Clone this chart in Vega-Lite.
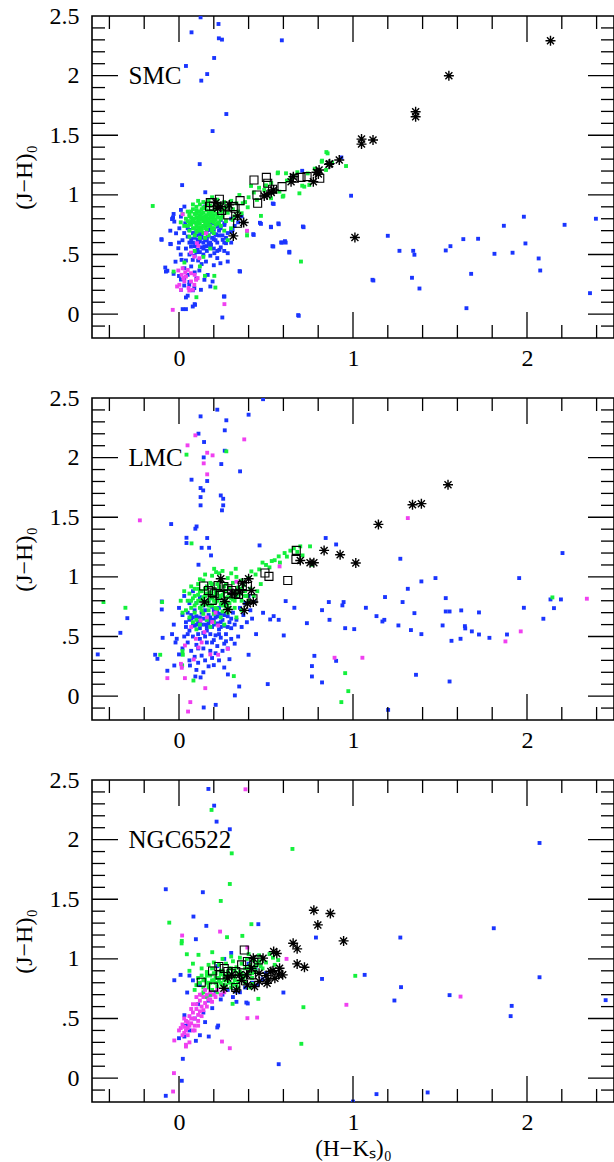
{
"$schema":"https://vega.github.io/schema/vega-lite/v6.json",
"padding":{"left":11,"top":3,"right":0,"bottom":0},
"spacing":60,
"bounds":"flush",
"config":{"view":{"stroke":"black","strokeWidth":1.6},
 "axis":{"domain":false,"grid":false,"ticks":false,"labelFont":"Liberation Serif","labelFontSize":24,"labelColor":"black","titleFont":"Liberation Serif","titleFontSize":24,"titleFontWeight":"normal","titleColor":"black","labelFlush":false,"labelOverlap":false}},
"datasets":{
"yt":[{"v":-0.1,"k":0},{"v":0,"k":1},{"v":0.1,"k":0},{"v":0.2,"k":0},{"v":0.3,"k":0},{"v":0.4,"k":0},{"v":0.5,"k":1},{"v":0.6,"k":0},{"v":0.7,"k":0},{"v":0.8,"k":0},{"v":0.9,"k":0},{"v":1,"k":1},{"v":1.1,"k":0},{"v":1.2,"k":0},{"v":1.3,"k":0},{"v":1.4,"k":0},{"v":1.5,"k":1},{"v":1.6,"k":0},{"v":1.7,"k":0},{"v":1.8,"k":0},{"v":1.9,"k":0},{"v":2,"k":1},{"v":2.1,"k":0},{"v":2.2,"k":0},{"v":2.3,"k":0},{"v":2.4,"k":0}],
"xt":[{"v":-0.4,"k":0},{"v":-0.2,"k":0},{"v":0,"k":1},{"v":0.2,"k":0},{"v":0.4,"k":0},{"v":0.6,"k":0},{"v":0.8,"k":0},{"v":1,"k":1},{"v":1.2,"k":0},{"v":1.4,"k":0},{"v":1.6,"k":0},{"v":1.8,"k":0},{"v":2,"k":1},{"v":2.2,"k":0},{"v":2.4,"k":0}],
"smc":[
{"t":"b","x":0.124,"y":2.489},{"t":"b","x":0.227,"y":2.433},{"t":"b","x":0.072,"y":2.363},{"t":"b","x":0.229,"y":2.313},{"t":"b","x":0.247,"y":2.302},{"t":"b","x":0.591,"y":2.296},{"t":"b","x":0.202,"y":2.148},{"t":"b","x":0.04,"y":2.081},{"t":"b","x":0.162,"y":2.013},{"t":"b","x":0.128,"y":1.958},{"t":"b","x":0.272,"y":1.678},{"t":"b","x":0.193,"y":1.535},{"t":"b","x":0.119,"y":1.258},{"t":"b","x":0.018,"y":1.082},{"t":"b","x":0.989,"y":0.993},{"t":"b","x":0.933,"y":1.314},{"t":"b","x":0.708,"y":1.202},{"t":"b","x":0.539,"y":0.928},{"t":"b","x":0.465,"y":0.766},{"t":"b","x":0.528,"y":0.733},{"t":"b","x":0.571,"y":0.761},{"t":"b","x":0.712,"y":0.735},{"t":"b","x":0.427,"y":0.671},{"t":"b","x":0.537,"y":0.57},{"t":"b","x":0.587,"y":0.601},{"t":"b","x":0.609,"y":0.612},{"t":"b","x":0.634,"y":0.523},{"t":"b","x":0.348,"y":0.361},{"t":"b","x":0.258,"y":0.148},{"t":"b","x":0.249,"y":-0.028},{"t":"b","x":0.685,"y":-0.008},{"t":"b","x":1.112,"y":0.288},{"t":"b","x":1.2,"y":0.657},{"t":"b","x":1.267,"y":0.531},{"t":"b","x":1.346,"y":0.531},{"t":"b","x":1.353,"y":0.498},{"t":"b","x":1.339,"y":0.305},{"t":"b","x":1.382,"y":0.215},{"t":"b","x":1.533,"y":0.534},{"t":"b","x":1.56,"y":0.57},{"t":"b","x":1.634,"y":0.629},{"t":"b","x":1.652,"y":0.05},{"t":"b","x":1.679,"y":0.338},{"t":"b","x":1.719,"y":0.632},{"t":"b","x":1.813,"y":0.506},{"t":"b","x":1.867,"y":0.741},{"t":"b","x":1.917,"y":0.515},{"t":"b","x":1.982,"y":0.817},{"t":"b","x":1.991,"y":0.593},{"t":"b","x":2.067,"y":0.467},{"t":"b","x":2.076,"y":0.366},{"t":"b","x":2.216,"y":0.749},{"t":"b","x":2.362,"y":0.176},{"t":"b","x":2.396,"y":0.8},
{"t":"b","x":0.04,"y":0.042},{"t":"b","x":0.079,"y":0.064},{"t":"b","x":0.09,"y":0.084},{"t":"b","x":-0.101,"y":0.629},{"t":"b","x":-0.047,"y":0.587},{"t":"b","x":-0.04,"y":0.797},{"t":"b","x":-0.034,"y":0.811},{"t":"b","x":-0.079,"y":0.391},{"t":"b","x":-0.067,"y":0.364},
{"t":"b","x":0.151,"y":1.022},{"t":"b","x":-0.1,"y":0.623},{"t":"b","x":-0.05,"y":0.589},{"t":"b","x":-0.036,"y":0.804},{"t":"b","x":-0.027,"y":0.776},{"t":"b","x":0.011,"y":0.818},{"t":"b","x":0.031,"y":0.902},{"t":"b","x":-0.075,"y":0.357},{"t":"b","x":-0.031,"y":0.338},{"t":"b","x":0.0,"y":0.32},{"t":"b","x":0.011,"y":0.29},{"t":"b","x":0.04,"y":0.14},{"t":"b","x":0.05,"y":0.155},{"t":"b","x":0.092,"y":0.078},{"t":"b","x":0.021,"y":0.042},{"t":"b","x":0.261,"y":0.148},{"t":"b","x":0.351,"y":0.357},{"t":"b","x":0.28,"y":0.441},{"t":"b","x":0.238,"y":0.427},{"t":"b","x":0.203,"y":0.511},{"t":"b","x":0.155,"y":0.441},{"t":"b","x":0.146,"y":0.288},{"t":"b","x":0.165,"y":0.329},{"t":"b","x":0.193,"y":0.274},{"t":"b","x":0.126,"y":0.204},{"t":"b","x":0.18,"y":0.232},{"t":"b","x":0.117,"y":0.366},{"t":"b","x":0.069,"y":0.511},{"t":"b","x":0.079,"y":0.455},{"t":"b","x":0.05,"y":0.65},{"t":"b","x":0.036,"y":0.762},{"t":"b","x":0.059,"y":0.706},{"t":"b","x":0.107,"y":0.623},{"t":"b","x":0.165,"y":0.65},{"t":"b","x":0.213,"y":0.664},{"t":"b","x":0.251,"y":0.623},{"t":"b","x":0.27,"y":0.595},{"t":"b","x":0.28,"y":0.511},{"t":"b","x":0.232,"y":0.539},{"t":"b","x":0.184,"y":0.581},{"t":"b","x":0.146,"y":0.567},{"t":"b","x":0.107,"y":0.539},{"t":"b","x":0.069,"y":0.567},{"t":"b","x":0.088,"y":0.678},{"t":"b","x":0.126,"y":0.72},{"t":"b","x":0.174,"y":0.706},{"t":"b","x":0.222,"y":0.734},{"t":"b","x":0.261,"y":0.748},{"t":"b","x":0.299,"y":0.692},{"t":"b","x":-0.017,"y":0.678},{"t":"b","x":0.002,"y":0.72},{"t":"b","x":-0.004,"y":0.553},{"t":"b","x":0.015,"y":0.455},{"t":"b","x":0.031,"y":0.385},{"t":"b","x":0.059,"y":0.246},{"t":"b","x":0.088,"y":0.218},{"t":"b","x":0.011,"y":0.204},{"t":"b","x":0.146,"y":0.902},{"t":"b","x":0.011,"y":0.874},{"t":"b","x":-0.031,"y":0.84},{"t":"b","x":0.261,"y":0.762},{"t":"b","x":0.308,"y":0.706},{"t":"b","x":0.471,"y":0.757},{"t":"b","x":0.529,"y":0.729},{"t":"b","x":0.573,"y":0.754},{"t":"b","x":0.429,"y":0.664},{"t":"b","x":0.542,"y":0.567},{"t":"b","x":0.592,"y":0.6},{"t":"b","x":0.613,"y":0.6},{"t":"b","x":0.634,"y":0.516},{"t":"b","x":0.716,"y":0.729},{"t":"b","x":0.544,"y":0.924},{"t":"b","x":0.688,"y":-0.014},{"t":"b","x":1.117,"y":0.282},
{"t":"b","x":0.08,"y":0.6},{"t":"b","x":0.1,"y":0.58},{"t":"b","x":0.12,"y":0.61},{"t":"b","x":0.14,"y":0.6},{"t":"b","x":0.16,"y":0.62},{"t":"b","x":0.18,"y":0.6},{"t":"b","x":0.2,"y":0.63},{"t":"b","x":0.22,"y":0.6},{"t":"b","x":0.09,"y":0.64},{"t":"b","x":0.11,"y":0.66},{"t":"b","x":0.13,"y":0.64},{"t":"b","x":0.15,"y":0.68},{"t":"b","x":0.17,"y":0.66},{"t":"b","x":0.19,"y":0.69},{"t":"b","x":0.21,"y":0.67},{"t":"b","x":0.23,"y":0.7},{"t":"b","x":0.1,"y":0.7},{"t":"b","x":0.12,"y":0.52},{"t":"b","x":0.14,"y":0.5},{"t":"b","x":0.16,"y":0.53},{"t":"b","x":0.18,"y":0.49},{"t":"b","x":0.09,"y":0.49},{"t":"b","x":0.06,"y":0.6},{"t":"b","x":0.04,"y":0.55},{"t":"b","x":0.02,"y":0.62},{"t":"b","x":0.25,"y":0.66},{"t":"b","x":0.27,"y":0.64},{"t":"b","x":0.24,"y":0.56},{"t":"b","x":0.2,"y":0.55},{"t":"b","x":0.13,"y":0.56},{"t":"b","x":0.16,"y":0.57},{"t":"b","x":0.11,"y":0.45},{"t":"b","x":0.13,"y":0.42},{"t":"b","x":0.07,"y":0.4},{"t":"b","x":0.05,"y":0.33},{"t":"b","x":0.09,"y":0.35},{"t":"b","x":0.03,"y":0.3},{"t":"b","x":0.1,"y":0.3},{"t":"b","x":0.06,"y":0.27},{"t":"b","x":0.08,"y":0.2},{"t":"b","x":0.03,"y":0.24},{"t":"b","x":0.2,"y":0.41},{"t":"b","x":0.22,"y":0.47},{"t":"b","x":0.26,"y":0.53},{"t":"b","x":0.3,"y":0.6},{"t":"b","x":0.28,"y":0.68},{"t":"b","x":0.32,"y":0.74},{"t":"b","x":0.05,"y":0.72},{"t":"b","x":0.07,"y":0.76},{"t":"b","x":0.03,"y":0.68},{"t":"b","x":0.0,"y":0.6},{"t":"b","x":0.01,"y":0.5},{"t":"b","x":0.04,"y":0.45},{"t":"b","x":-0.02,"y":0.44},{"t":"b","x":-0.05,"y":0.7},{"t":"b","x":0.15,"y":0.74},{"t":"b","x":0.19,"y":0.76},{"t":"b","x":0.24,"y":0.79},{"t":"b","x":0.3,"y":0.8},{"t":"b","x":0.34,"y":0.77},{"t":"b","x":0.36,"y":0.82},
{"t":"b","x":0.07,"y":0.63},{"t":"b","x":0.09,"y":0.57},{"t":"b","x":0.11,"y":0.6},{"t":"b","x":0.13,"y":0.67},{"t":"b","x":0.15,"y":0.62},{"t":"b","x":0.17,"y":0.59},{"t":"b","x":0.19,"y":0.64},{"t":"b","x":0.21,"y":0.62},{"t":"b","x":0.23,"y":0.66},{"t":"b","x":0.08,"y":0.68},{"t":"b","x":0.12,"y":0.69},{"t":"b","x":0.16,"y":0.7},{"t":"b","x":0.2,"y":0.71},{"t":"b","x":0.14,"y":0.55},{"t":"b","x":0.18,"y":0.56},{"t":"b","x":0.1,"y":0.52},{"t":"b","x":0.06,"y":0.5},{"t":"b","x":0.22,"y":0.53},{"t":"b","x":0.26,"y":0.6},{"t":"b","x":0.24,"y":0.72},
{"t":"g","x":0.05,"y":0.78},{"t":"g","x":0.06,"y":0.82},{"t":"g","x":0.07,"y":0.75},{"t":"g","x":0.07,"y":0.86},{"t":"g","x":0.08,"y":0.8},{"t":"g","x":0.08,"y":0.72},{"t":"g","x":0.09,"y":0.84},{"t":"g","x":0.09,"y":0.77},{"t":"g","x":0.1,"y":0.9},{"t":"g","x":0.1,"y":0.81},{"t":"g","x":0.1,"y":0.74},{"t":"g","x":0.11,"y":0.86},{"t":"g","x":0.11,"y":0.79},{"t":"g","x":0.11,"y":0.7},{"t":"g","x":0.12,"y":0.83},{"t":"g","x":0.12,"y":0.76},{"t":"g","x":0.12,"y":0.92},{"t":"g","x":0.13,"y":0.88},{"t":"g","x":0.13,"y":0.8},{"t":"g","x":0.13,"y":0.73},{"t":"g","x":0.14,"y":0.85},{"t":"g","x":0.14,"y":0.78},{"t":"g","x":0.14,"y":0.68},{"t":"g","x":0.15,"y":0.9},{"t":"g","x":0.15,"y":0.82},{"t":"g","x":0.15,"y":0.75},{"t":"g","x":0.16,"y":0.87},{"t":"g","x":0.16,"y":0.79},{"t":"g","x":0.16,"y":0.71},{"t":"g","x":0.17,"y":0.84},{"t":"g","x":0.17,"y":0.77},{"t":"g","x":0.18,"y":0.91},{"t":"g","x":0.18,"y":0.81},{"t":"g","x":0.18,"y":0.74},{"t":"g","x":0.19,"y":0.86},{"t":"g","x":0.19,"y":0.78},{"t":"g","x":0.2,"y":0.83},{"t":"g","x":0.2,"y":0.72},{"t":"g","x":0.21,"y":0.88},{"t":"g","x":0.21,"y":0.79},{"t":"g","x":0.22,"y":0.84},{"t":"g","x":0.22,"y":0.76},{"t":"g","x":0.23,"y":0.9},{"t":"g","x":0.23,"y":0.81},{"t":"g","x":0.24,"y":0.86},{"t":"g","x":0.25,"y":0.82},{"t":"g","x":0.26,"y":0.88},{"t":"g","x":0.04,"y":0.8},{"t":"g","x":0.03,"y":0.74},{"t":"g","x":0.05,"y":0.86},{"t":"g","x":0.06,"y":0.7},{"t":"g","x":0.09,"y":0.66},{"t":"g","x":0.12,"y":0.64},{"t":"g","x":0.17,"y":0.66},{"t":"g","x":0.2,"y":0.68},{"t":"g","x":0.24,"y":0.74},{"t":"g","x":0.27,"y":0.78},{"t":"g","x":0.28,"y":0.85},{"t":"g","x":0.29,"y":0.91},{"t":"g","x":0.31,"y":0.88},{"t":"g","x":0.33,"y":0.93},{"t":"g","x":0.3,"y":0.95},{"t":"g","x":0.14,"y":0.94},{"t":"g","x":0.17,"y":0.95},{"t":"g","x":0.08,"y":0.92},{"t":"g","x":0.02,"y":0.84},{"t":"g","x":0.01,"y":0.77},{"t":"g","x":0.11,"y":0.95},{"t":"g","x":0.26,"y":0.94},{"t":"g","x":0.22,"y":0.96},{"t":"g","x":0.19,"y":0.98},{"t":"g","x":0.1,"y":0.87},{"t":"g","x":0.13,"y":0.84},{"t":"g","x":0.16,"y":0.83},{"t":"g","x":0.18,"y":0.86},{"t":"g","x":0.2,"y":0.8},{"t":"g","x":0.07,"y":0.81},{"t":"g","x":0.09,"y":0.8},{"t":"g","x":0.11,"y":0.77},{"t":"g","x":0.14,"y":0.81},{"t":"g","x":0.15,"y":0.79},{"t":"g","x":0.12,"y":0.79},{"t":"g","x":0.17,"y":0.8},{"t":"g","x":0.19,"y":0.82},{"t":"g","x":0.21,"y":0.75},{"t":"g","x":0.23,"y":0.77},{"t":"g","x":0.1,"y":0.69},{"t":"g","x":0.15,"y":0.64},{"t":"g","x":0.19,"y":0.7},{"t":"g","x":0.06,"y":0.65},
{"t":"g","x":0.06,"y":0.76},{"t":"g","x":0.08,"y":0.78},{"t":"g","x":0.1,"y":0.76},{"t":"g","x":0.12,"y":0.81},{"t":"g","x":0.14,"y":0.74},{"t":"g","x":0.16,"y":0.76},{"t":"g","x":0.18,"y":0.78},{"t":"g","x":0.2,"y":0.77},{"t":"g","x":0.22,"y":0.82},{"t":"g","x":0.24,"y":0.8},{"t":"g","x":0.06,"y":0.84},{"t":"g","x":0.08,"y":0.88},{"t":"g","x":0.1,"y":0.84},{"t":"g","x":0.12,"y":0.86},{"t":"g","x":0.14,"y":0.89},{"t":"g","x":0.16,"y":0.92},{"t":"g","x":0.18,"y":0.84},{"t":"g","x":0.2,"y":0.86},{"t":"g","x":0.22,"y":0.9},{"t":"g","x":0.24,"y":0.92},{"t":"g","x":0.09,"y":0.72},{"t":"g","x":0.11,"y":0.73},{"t":"g","x":0.13,"y":0.7},{"t":"g","x":0.15,"y":0.72},{"t":"g","x":0.17,"y":0.74},{"t":"g","x":0.19,"y":0.72},{"t":"g","x":0.07,"y":0.78},{"t":"g","x":0.05,"y":0.74},{"t":"g","x":0.25,"y":0.86},{"t":"g","x":0.27,"y":0.9},
{"t":"g","x":-0.151,"y":0.907},{"t":"g","x":0.347,"y":0.999},{"t":"g","x":0.414,"y":1.075},{"t":"g","x":0.49,"y":1.041},{"t":"g","x":0.567,"y":1.181},{"t":"g","x":0.615,"y":1.181},{"t":"g","x":0.644,"y":1.139},{"t":"g","x":0.72,"y":1.069},{"t":"g","x":0.822,"y":1.287},{"t":"g","x":0.854,"y":1.348},{"t":"g","x":0.96,"y":1.242},{"t":"g","x":0.596,"y":0.985},{"t":"g","x":0.471,"y":0.824},{"t":"g","x":0.391,"y":0.692},{"t":"g","x":0.391,"y":0.66},{"t":"g","x":0.701,"y":0.441},{"t":"g","x":0.209,"y":0.223},{"t":"g","x":0.1,"y":0.142},{"t":"g","x":0.149,"y":0.321},{"t":"g","x":0.203,"y":0.321},{"t":"g","x":0.031,"y":0.433},{"t":"g","x":-0.031,"y":0.357},{"t":"g","x":0.366,"y":0.93},{"t":"g","x":0.395,"y":0.896},{"t":"g","x":0.36,"y":0.846},{"t":"g","x":0.308,"y":0.79},{"t":"g","x":0.299,"y":0.72},{"t":"g","x":0.448,"y":0.958},{"t":"g","x":0.529,"y":0.972},{"t":"g","x":0.577,"y":1.027},{"t":"g","x":0.749,"y":1.083},{"t":"g","x":0.692,"y":1.013},{"t":"g","x":0.845,"y":1.209},{"t":"g","x":0.847,"y":1.359},{"t":"g","x":0.82,"y":1.278},{"t":"g","x":0.708,"y":1.077},{"t":"g","x":0.6,"y":0.993},{"t":"g","x":0.569,"y":1.188},{"t":"g","x":0.4,"y":0.98},{"t":"g","x":0.43,"y":1.02},{"t":"g","x":0.46,"y":1.06},{"t":"g","x":0.5,"y":1.08},{"t":"g","x":0.53,"y":1.1},{"t":"g","x":0.62,"y":1.12},{"t":"g","x":0.66,"y":1.16},{"t":"g","x":0.68,"y":1.19},{"t":"g","x":0.74,"y":1.18},{"t":"g","x":0.78,"y":1.22},{"t":"g","x":0.88,"y":1.27},{"t":"g","x":0.38,"y":0.94},{"t":"g","x":0.34,"y":0.86},{"t":"g","x":0.32,"y":0.82},{"t":"g","x":0.26,"y":0.7},{"t":"g","x":0.09,"y":0.53},{"t":"g","x":0.14,"y":0.48},{"t":"g","x":0.18,"y":0.55},{"t":"g","x":0.12,"y":0.4},{"t":"g","x":0.28,"y":0.62},
{"t":"m","x":-0.004,"y":0.366},{"t":"m","x":0.021,"y":0.385},{"t":"m","x":0.05,"y":0.371},{"t":"m","x":0.069,"y":0.343},{"t":"m","x":0.04,"y":0.315},{"t":"m","x":0.002,"y":0.246},{"t":"m","x":0.011,"y":0.204},{"t":"m","x":0.069,"y":0.274},{"t":"m","x":0.098,"y":0.288},{"t":"m","x":0.107,"y":0.302},{"t":"m","x":0.079,"y":0.204},{"t":"m","x":0.059,"y":0.198},{"t":"m","x":0.088,"y":0.246},{"t":"m","x":-0.011,"y":0.232},{"t":"m","x":0.031,"y":0.274},{"t":"m","x":0.036,"y":0.35},{"t":"m","x":-0.036,"y":0.036},{"t":"m","x":0.261,"y":0.084},{"t":"m","x":0.391,"y":0.699},{"t":"m","x":0.111,"y":0.572},{"t":"m","x":0.103,"y":0.595},{"t":"m","x":0.021,"y":0.838},{"t":"m","x":0.155,"y":0.678},{"t":"m","x":0.088,"y":0.483},{"t":"m","x":0.117,"y":0.469},{"t":"m","x":0.069,"y":0.516},{"t":"m","x":0.015,"y":0.33},{"t":"m","x":0.055,"y":0.22},{"t":"m","x":0.09,"y":0.33},{"t":"m","x":0.025,"y":0.3},
{"t":"s","x":0.18,"y":0.935},{"t":"s","x":0.232,"y":0.963},{"t":"s","x":0.199,"y":0.907},{"t":"s","x":0.26,"y":0.907},{"t":"s","x":0.28,"y":0.832},{"t":"s","x":0.322,"y":0.888},{"t":"s","x":0.351,"y":0.952},{"t":"s","x":0.337,"y":0.762},{"t":"s","x":0.431,"y":1.125},{"t":"s","x":0.448,"y":0.999},{"t":"s","x":0.452,"y":0.93},{"t":"s","x":0.502,"y":1.147},{"t":"s","x":0.51,"y":1.097},{"t":"s","x":0.538,"y":1.047},{"t":"s","x":0.592,"y":1.069},{"t":"s","x":0.663,"y":1.139},{"t":"s","x":0.701,"y":1.147},{"t":"s","x":0.736,"y":1.153},{"t":"s","x":0.809,"y":1.139},{"t":"s","x":0.312,"y":0.902},{"t":"s","x":0.175,"y":0.905},{"t":"s","x":0.245,"y":0.87},
{"t":"a","x":2.135,"y":2.293},{"t":"a","x":1.551,"y":1.999},{"t":"a","x":1.36,"y":1.697},{"t":"a","x":1.36,"y":1.655},{"t":"a","x":1.049,"y":1.468},{"t":"a","x":1.049,"y":1.426},{"t":"a","x":1.115,"y":1.46},{"t":"a","x":1.011,"y":0.643},{"t":"a","x":0.921,"y":1.292},{"t":"a","x":0.862,"y":1.256},{"t":"a","x":0.805,"y":1.209},{"t":"a","x":0.801,"y":1.175},{"t":"a","x":0.772,"y":1.111},{"t":"a","x":0.657,"y":1.153},{"t":"a","x":0.644,"y":1.111},{"t":"a","x":0.49,"y":0.991},{"t":"a","x":0.289,"y":0.916},{"t":"a","x":0.337,"y":0.823},{"t":"a","x":0.372,"y":0.768},{"t":"a","x":0.312,"y":0.656},{"t":"a","x":0.222,"y":0.888},{"t":"a","x":0.213,"y":0.935},{"t":"a","x":0.544,"y":1.041},{"t":"a","x":0.506,"y":1.0},{"t":"a","x":0.866,"y":1.262},{"t":"a","x":0.79,"y":1.19},{"t":"a","x":0.53,"y":1.02},{"t":"a","x":0.24,"y":0.9}
],
"lmc":[
{"t":"b","x":0.483,"y":2.49},{"t":"b","x":0.22,"y":2.402},{"t":"b","x":0.4,"y":2.36},{"t":"b","x":0.124,"y":2.346},{"t":"b","x":0.272,"y":2.313},{"t":"b","x":0.112,"y":2.201},{"t":"b","x":0.144,"y":2.131},{"t":"b","x":0.263,"y":2.229},{"t":"b","x":0.263,"y":2.058},{"t":"b","x":0.243,"y":1.946},{"t":"b","x":0.142,"y":2.002},{"t":"b","x":0.351,"y":1.885},{"t":"b","x":0.072,"y":1.815},{"t":"b","x":0.162,"y":1.804},{"t":"b","x":0.124,"y":1.745},{"t":"b","x":0.139,"y":1.725},{"t":"b","x":0.124,"y":1.669},{"t":"b","x":0.24,"y":1.683},{"t":"b","x":0.254,"y":1.655},{"t":"b","x":0.124,"y":1.6},{"t":"b","x":0.254,"y":1.6},{"t":"b","x":0.247,"y":1.558},{"t":"b","x":-0.045,"y":1.443},{"t":"b","x":0.101,"y":1.423},{"t":"b","x":0.094,"y":1.404},{"t":"b","x":0.043,"y":1.328},{"t":"b","x":0.162,"y":1.326},{"t":"b","x":0.043,"y":1.284},{"t":"b","x":0.13,"y":1.244},{"t":"b","x":0.173,"y":1.244},{"t":"b","x":0.184,"y":1.18},{"t":"b","x":0.112,"y":1.102},{"t":"b","x":0.463,"y":1.264},{"t":"b","x":0.843,"y":1.326},{"t":"b","x":0.903,"y":1.272},{"t":"b","x":1.272,"y":1.152},{"t":"b","x":2.204,"y":1.2},{"t":"b","x":1.393,"y":0.962},{"t":"b","x":1.474,"y":0.99},{"t":"b","x":1.955,"y":0.99},{"t":"b","x":1.315,"y":0.9},{"t":"b","x":1.184,"y":0.831},{"t":"b","x":1.285,"y":0.789},{"t":"b","x":1.353,"y":0.696},{"t":"b","x":1.074,"y":0.741},{"t":"b","x":1.135,"y":0.671},{"t":"b","x":1.18,"y":0.64},{"t":"b","x":1.169,"y":0.626},{"t":"b","x":1.261,"y":0.593},{"t":"b","x":1.333,"y":0.554},{"t":"b","x":1.393,"y":0.52},{"t":"b","x":1.533,"y":0.822},{"t":"b","x":1.533,"y":0.71},{"t":"b","x":1.555,"y":0.71},{"t":"b","x":1.622,"y":0.719},{"t":"b","x":1.724,"y":0.702},{"t":"b","x":1.515,"y":0.593},{"t":"b","x":1.643,"y":0.587},{"t":"b","x":1.645,"y":0.568},{"t":"b","x":1.683,"y":0.543},{"t":"b","x":1.724,"y":0.517},{"t":"b","x":1.784,"y":0.489},{"t":"b","x":1.885,"y":0.517},{"t":"b","x":1.982,"y":0.741},{"t":"b","x":2.094,"y":0.649},{"t":"b","x":2.135,"y":0.811},{"t":"b","x":2.155,"y":0.738},{"t":"b","x":2.195,"y":0.811},{"t":"b","x":1.618,"y":0.481},{"t":"b","x":1.566,"y":0.464},{"t":"b","x":1.362,"y":0.179},{"t":"b","x":1.555,"y":0.123},{"t":"b","x":1.202,"y":-0.115},{"t":"b","x":0.946,"y":0.789},{"t":"b","x":0.939,"y":0.761},{"t":"b","x":0.955,"y":0.57},{"t":"b","x":1.007,"y":0.562},{"t":"b","x":0.865,"y":0.64},{"t":"b","x":0.861,"y":0.789},{"t":"b","x":0.735,"y":0.612},{"t":"b","x":0.822,"y":0.721},{"t":"b","x":0.663,"y":0.741},{"t":"b","x":0.613,"y":0.797},{"t":"b","x":0.602,"y":0.509},{"t":"b","x":0.573,"y":0.64},{"t":"b","x":0.524,"y":0.643},{"t":"b","x":0.544,"y":0.671},{"t":"b","x":0.483,"y":0.699},{"t":"b","x":0.443,"y":0.52},{"t":"b","x":0.4,"y":0.347},{"t":"b","x":0.346,"y":0.081},{"t":"b","x":0.321,"y":0.006},{"t":"b","x":0.51,"y":0.101},{"t":"b","x":0.778,"y":0.338},{"t":"b","x":0.764,"y":0.252},{"t":"b","x":0.764,"y":0.165},{"t":"b","x":0.822,"y":0.115},{"t":"b","x":0.903,"y":0.296},{"t":"b","x":0.211,"y":-0.073},{"t":"b","x":0.142,"y":-0.095},{"t":"b","x":0.281,"y":0.182},{"t":"b","x":-0.094,"y":0.489},{"t":"b","x":-0.099,"y":0.794},{"t":"b","x":-0.099,"y":0.727},{"t":"b","x":-0.297,"y":0.654},{"t":"b","x":-0.337,"y":0.531},{"t":"b","x":-0.467,"y":0.35},{"t":"b","x":-0.137,"y":0.347},{"t":"b","x":-0.124,"y":0.313},{"t":"b","x":-0.067,"y":0.213},{"t":"b","x":-0.027,"y":0.257},{"t":"b","x":0.016,"y":0.257},{"t":"b","x":0.063,"y":0.257},{"t":"b","x":0.094,"y":0.165},{"t":"b","x":0.124,"y":0.157},{"t":"b","x":-0.013,"y":0.481},
{"t":"b","x":0.05,"y":0.7},{"t":"b","x":0.07,"y":0.65},{"t":"b","x":0.08,"y":0.6},{"t":"b","x":0.09,"y":0.72},{"t":"b","x":0.1,"y":0.67},{"t":"b","x":0.11,"y":0.62},{"t":"b","x":0.12,"y":0.57},{"t":"b","x":0.13,"y":0.7},{"t":"b","x":0.14,"y":0.65},{"t":"b","x":0.15,"y":0.6},{"t":"b","x":0.16,"y":0.55},{"t":"b","x":0.17,"y":0.68},{"t":"b","x":0.18,"y":0.63},{"t":"b","x":0.19,"y":0.58},{"t":"b","x":0.2,"y":0.72},{"t":"b","x":0.21,"y":0.66},{"t":"b","x":0.22,"y":0.61},{"t":"b","x":0.23,"y":0.56},{"t":"b","x":0.24,"y":0.69},{"t":"b","x":0.25,"y":0.64},{"t":"b","x":0.26,"y":0.59},{"t":"b","x":0.27,"y":0.52},{"t":"b","x":0.28,"y":0.67},{"t":"b","x":0.29,"y":0.62},{"t":"b","x":0.3,"y":0.57},{"t":"b","x":0.31,"y":0.7},{"t":"b","x":0.33,"y":0.64},{"t":"b","x":0.35,"y":0.74},{"t":"b","x":0.37,"y":0.68},{"t":"b","x":0.39,"y":0.62},{"t":"b","x":0.41,"y":0.72},{"t":"b","x":0.43,"y":0.79},{"t":"b","x":0.06,"y":0.55},{"t":"b","x":0.04,"y":0.62},{"t":"b","x":0.02,"y":0.68},{"t":"b","x":0.0,"y":0.74},{"t":"b","x":0.03,"y":0.5},{"t":"b","x":0.05,"y":0.45},{"t":"b","x":0.08,"y":0.5},{"t":"b","x":0.1,"y":0.43},{"t":"b","x":0.12,"y":0.48},{"t":"b","x":0.14,"y":0.4},{"t":"b","x":0.16,"y":0.45},{"t":"b","x":0.18,"y":0.38},{"t":"b","x":0.2,"y":0.47},{"t":"b","x":0.22,"y":0.42},{"t":"b","x":0.24,"y":0.49},{"t":"b","x":0.26,"y":0.44},{"t":"b","x":0.28,"y":0.4},{"t":"b","x":0.3,"y":0.48},{"t":"b","x":0.07,"y":0.38},{"t":"b","x":0.09,"y":0.33},{"t":"b","x":0.11,"y":0.28},{"t":"b","x":0.13,"y":0.34},{"t":"b","x":0.15,"y":0.3},{"t":"b","x":0.17,"y":0.25},{"t":"b","x":0.19,"y":0.32},{"t":"b","x":0.21,"y":0.36},{"t":"b","x":0.23,"y":0.3},{"t":"b","x":0.25,"y":0.38},{"t":"b","x":0.02,"y":0.4},{"t":"b","x":0.0,"y":0.35},{"t":"b","x":-0.02,"y":0.45},{"t":"b","x":-0.03,"y":0.6},{"t":"b","x":-0.04,"y":0.52},{"t":"b","x":0.1,"y":0.78},{"t":"b","x":0.12,"y":0.83},{"t":"b","x":0.14,"y":0.76},{"t":"b","x":0.17,"y":0.8},{"t":"b","x":0.06,"y":0.78},{"t":"b","x":0.03,"y":0.84},{"t":"b","x":0.08,"y":0.88},{"t":"b","x":0.36,"y":0.58},{"t":"b","x":0.34,"y":0.5},{"t":"b","x":0.32,"y":0.44},{"t":"b","x":0.38,"y":0.78},{"t":"b","x":0.4,"y":0.84},{"t":"b","x":0.42,"y":0.65},{"t":"b","x":0.04,"y":0.58},{"t":"b","x":0.11,"y":0.52},{"t":"b","x":0.18,"y":0.52},{"t":"b","x":0.21,"y":0.51},{"t":"b","x":0.15,"y":0.72},{"t":"b","x":0.19,"y":0.75},{"t":"b","x":0.23,"y":0.74},{"t":"b","x":0.27,"y":0.77},{"t":"b","x":0.12,"y":0.66},{"t":"b","x":0.16,"y":0.64},{"t":"b","x":0.24,"y":0.58},{"t":"b","x":0.06,"y":0.3},{"t":"b","x":0.1,"y":0.22},{"t":"b","x":0.14,"y":0.2},{"t":"b","x":0.2,"y":0.26},{"t":"b","x":0.26,"y":0.24},{"t":"b","x":0.29,"y":0.31},{"t":"b","x":0.09,"y":0.59},{"t":"b","x":0.13,"y":0.6},{"t":"b","x":0.17,"y":0.61},{"t":"b","x":0.2,"y":0.6},{"t":"b","x":0.07,"y":0.68},{"t":"b","x":0.22,"y":0.67},
{"t":"b","x":0.08,"y":0.66},{"t":"b","x":0.12,"y":0.62},{"t":"b","x":0.16,"y":0.58},{"t":"b","x":0.2,"y":0.64},{"t":"b","x":0.24,"y":0.62},{"t":"b","x":0.28,"y":0.58},{"t":"b","x":0.14,"y":0.53},{"t":"b","x":0.18,"y":0.66},{"t":"b","x":0.22,"y":0.7},{"t":"b","x":0.1,"y":0.6},{"t":"b","x":0.06,"y":0.64},{"t":"b","x":0.26,"y":0.68},{"t":"b","x":0.3,"y":0.65},{"t":"b","x":0.32,"y":0.6},{"t":"b","x":0.15,"y":0.5},{"t":"b","x":0.19,"y":0.45},{"t":"b","x":0.23,"y":0.52},{"t":"b","x":0.11,"y":0.4},{"t":"b","x":0.27,"y":0.46},{"t":"b","x":0.05,"y":0.52},
{"t":"g","x":-0.434,"y":0.789},{"t":"g","x":-0.308,"y":0.741},{"t":"g","x":-0.097,"y":0.789},{"t":"g","x":-0.108,"y":0.347},{"t":"g","x":0.02,"y":0.378},{"t":"g","x":0.022,"y":0.347},{"t":"g","x":0.018,"y":0.257},{"t":"g","x":0.083,"y":0.131},{"t":"g","x":0.043,"y":2.025},{"t":"g","x":0.272,"y":2.053},{"t":"g","x":0.072,"y":1.281},{"t":"g","x":0.315,"y":0.168},{"t":"g","x":0.955,"y":0.193},{"t":"g","x":0.973,"y":0.042},{"t":"g","x":0.933,"y":-0.05},{"t":"g","x":2.146,"y":0.828},{"t":"g","x":0.753,"y":1.256},{"t":"g","x":0.697,"y":1.256},{"t":"g","x":0.607,"y":1.2},{"t":"g","x":0.573,"y":1.172},{"t":"g","x":0.533,"y":1.133},{"t":"g","x":0.461,"y":1.063},{"t":"g","x":0.416,"y":1.046},{"t":"g","x":0.326,"y":1.068},{"t":"g","x":0.202,"y":1.068},{"t":"g","x":0.213,"y":1.04},{"t":"g","x":0.764,"y":1.102},{"t":"g","x":0.64,"y":1.22},{"t":"g","x":0.66,"y":1.24},{"t":"g","x":0.55,"y":1.14},{"t":"g","x":0.5,"y":1.1},{"t":"g","x":0.48,"y":1.12},{"t":"g","x":0.44,"y":1.02},{"t":"g","x":0.4,"y":0.99},{"t":"g","x":0.36,"y":0.97},{"t":"g","x":0.3,"y":1.03},{"t":"g","x":0.25,"y":1.05},{"t":"g","x":0.62,"y":1.17},{"t":"g","x":0.68,"y":1.21},{"t":"g","x":0.71,"y":1.18},{"t":"g","x":0.58,"y":1.12},{"t":"g","x":0.52,"y":1.08},
{"t":"g","x":0.05,"y":0.8},{"t":"g","x":0.06,"y":0.86},{"t":"g","x":0.07,"y":0.74},{"t":"g","x":0.08,"y":0.82},{"t":"g","x":0.09,"y":0.9},{"t":"g","x":0.09,"y":0.7},{"t":"g","x":0.1,"y":0.78},{"t":"g","x":0.11,"y":0.85},{"t":"g","x":0.11,"y":0.94},{"t":"g","x":0.12,"y":0.74},{"t":"g","x":0.13,"y":0.81},{"t":"g","x":0.13,"y":0.88},{"t":"g","x":0.14,"y":0.69},{"t":"g","x":0.14,"y":0.97},{"t":"g","x":0.15,"y":0.77},{"t":"g","x":0.15,"y":0.84},{"t":"g","x":0.16,"y":0.92},{"t":"g","x":0.17,"y":0.72},{"t":"g","x":0.17,"y":0.8},{"t":"g","x":0.18,"y":0.87},{"t":"g","x":0.18,"y":0.95},{"t":"g","x":0.19,"y":0.76},{"t":"g","x":0.19,"y":0.83},{"t":"g","x":0.2,"y":0.9},{"t":"g","x":0.2,"y":0.69},{"t":"g","x":0.21,"y":0.79},{"t":"g","x":0.21,"y":0.86},{"t":"g","x":0.22,"y":0.94},{"t":"g","x":0.22,"y":0.73},{"t":"g","x":0.23,"y":0.82},{"t":"g","x":0.23,"y":0.89},{"t":"g","x":0.24,"y":0.77},{"t":"g","x":0.24,"y":0.98},{"t":"g","x":0.25,"y":0.85},{"t":"g","x":0.25,"y":0.71},{"t":"g","x":0.26,"y":0.8},{"t":"g","x":0.26,"y":0.92},{"t":"g","x":0.27,"y":0.88},{"t":"g","x":0.27,"y":0.75},{"t":"g","x":0.28,"y":0.83},{"t":"g","x":0.29,"y":0.9},{"t":"g","x":0.29,"y":0.78},{"t":"g","x":0.3,"y":0.86},{"t":"g","x":0.31,"y":0.81},{"t":"g","x":0.31,"y":0.95},{"t":"g","x":0.32,"y":0.88},{"t":"g","x":0.33,"y":0.84},{"t":"g","x":0.34,"y":0.91},{"t":"g","x":0.35,"y":0.86},{"t":"g","x":0.36,"y":0.8},{"t":"g","x":0.37,"y":0.93},{"t":"g","x":0.38,"y":0.88},{"t":"g","x":0.39,"y":0.84},{"t":"g","x":0.41,"y":0.9},{"t":"g","x":0.4,"y":0.8},{"t":"g","x":0.04,"y":0.72},{"t":"g","x":0.03,"y":0.88},{"t":"g","x":0.06,"y":0.66},{"t":"g","x":0.08,"y":0.62},{"t":"g","x":0.1,"y":0.64},{"t":"g","x":0.12,"y":0.6},{"t":"g","x":0.16,"y":0.64},{"t":"g","x":0.2,"y":0.62},{"t":"g","x":0.24,"y":0.66},{"t":"g","x":0.28,"y":0.7},{"t":"g","x":0.32,"y":0.74},{"t":"g","x":0.36,"y":0.72},{"t":"g","x":0.12,"y":0.98},{"t":"g","x":0.15,"y":1.02},{"t":"g","x":0.19,"y":1.01},{"t":"g","x":0.23,"y":1.03},{"t":"g","x":0.28,"y":0.99},{"t":"g","x":0.33,"y":1.0},{"t":"g","x":0.01,"y":0.8},{"t":"g","x":0.02,"y":0.7},{"t":"g","x":0.14,"y":0.83},{"t":"g","x":0.16,"y":0.79},{"t":"g","x":0.18,"y":0.82},{"t":"g","x":0.2,"y":0.84},{"t":"g","x":0.22,"y":0.8},{"t":"g","x":0.17,"y":0.86},{"t":"g","x":0.21,"y":0.88},{"t":"g","x":0.13,"y":0.76},{"t":"g","x":0.11,"y":0.8},{"t":"g","x":0.25,"y":0.78},{"t":"g","x":0.27,"y":0.82},{"t":"g","x":0.09,"y":0.76},{"t":"g","x":0.07,"y":0.92},{"t":"g","x":0.1,"y":0.56},{"t":"g","x":0.18,"y":0.58},{"t":"g","x":0.26,"y":0.6},{"t":"g","x":0.33,"y":0.66},{"t":"g","x":0.43,"y":0.84},{"t":"g","x":0.45,"y":0.88},{"t":"g","x":0.47,"y":0.94},
{"t":"g","x":0.12,"y":0.88},{"t":"g","x":0.14,"y":0.8},{"t":"g","x":0.16,"y":0.86},{"t":"g","x":0.18,"y":0.76},{"t":"g","x":0.2,"y":0.8},{"t":"g","x":0.22,"y":0.86},{"t":"g","x":0.24,"y":0.84},{"t":"g","x":0.26,"y":0.88},{"t":"g","x":0.28,"y":0.78},{"t":"g","x":0.3,"y":0.82},{"t":"g","x":0.32,"y":0.8},{"t":"g","x":0.34,"y":0.86},{"t":"g","x":0.36,"y":0.9},{"t":"g","x":0.38,"y":0.84},{"t":"g","x":0.15,"y":0.9},{"t":"g","x":0.19,"y":0.94},{"t":"g","x":0.23,"y":0.92},{"t":"g","x":0.27,"y":0.94},{"t":"g","x":0.13,"y":0.72},{"t":"g","x":0.17,"y":0.76},{"t":"g","x":0.21,"y":0.74},{"t":"g","x":0.25,"y":0.76},{"t":"g","x":0.29,"y":0.74},{"t":"g","x":0.11,"y":0.9},{"t":"g","x":0.09,"y":0.84},{"t":"g","x":0.07,"y":0.8},
{"t":"m","x":-0.225,"y":1.474},{"t":"m","x":0.049,"y":2.103},{"t":"m","x":0.094,"y":2.187},{"t":"m","x":0.162,"y":2.041},{"t":"m","x":0.193,"y":2.019},{"t":"m","x":0.142,"y":1.952},{"t":"m","x":0.162,"y":1.86},{"t":"m","x":0.375,"y":2.153},{"t":"m","x":1.315,"y":1.493},{"t":"m","x":2.344,"y":0.817},{"t":"m","x":1.964,"y":0.543},{"t":"m","x":1.876,"y":0.459},{"t":"m","x":0.894,"y":0.322},{"t":"m","x":1.054,"y":0.322},{"t":"m","x":-0.067,"y":0.151},{"t":"m","x":0.034,"y":0.151},{"t":"m","x":0.052,"y":-0.129},{"t":"m","x":0.065,"y":-0.05},{"t":"m","x":0.151,"y":0.067},{"t":"m","x":0.011,"y":0.271},{"t":"m","x":0.016,"y":0.238},{"t":"m","x":0.085,"y":0.308},{"t":"m","x":0.225,"y":0.347},{"t":"m","x":0.281,"y":0.397},{"t":"m","x":0.112,"y":0.408},{"t":"m","x":0.146,"y":0.537},{"t":"m","x":0.191,"y":0.621},{"t":"m","x":0.225,"y":0.593},{"t":"m","x":0.124,"y":0.635},{"t":"m","x":0.097,"y":0.481},{"t":"m","x":0.034,"y":0.425},{"t":"m","x":0.578,"y":1.088},{"t":"m","x":0.16,"y":0.66},{"t":"m","x":0.21,"y":0.7},{"t":"m","x":0.07,"y":0.58},{"t":"m","x":0.13,"y":0.45},{"t":"m","x":0.18,"y":0.35},{"t":"m","x":0.33,"y":0.96},{"t":"m","x":0.3,"y":0.88},
{"t":"s","x":0.674,"y":1.222},{"t":"s","x":0.672,"y":1.147},{"t":"s","x":0.494,"y":1.032},{"t":"s","x":0.517,"y":1.004},{"t":"s","x":0.625,"y":0.97},{"t":"s","x":0.142,"y":0.923},{"t":"s","x":0.169,"y":0.886},{"t":"s","x":0.191,"y":0.872},{"t":"s","x":0.225,"y":0.928},{"t":"s","x":0.258,"y":0.92},{"t":"s","x":0.281,"y":0.9},{"t":"s","x":0.303,"y":0.886},{"t":"s","x":0.364,"y":0.928},{"t":"s","x":0.393,"y":0.92},{"t":"s","x":0.236,"y":0.845},{"t":"s","x":0.202,"y":0.858},{"t":"s","x":0.326,"y":0.858},{"t":"s","x":0.342,"y":0.853},{"t":"s","x":0.191,"y":0.803},{"t":"s","x":0.281,"y":0.858},{"t":"s","x":0.425,"y":0.817},
{"t":"a","x":1.546,"y":1.773},{"t":"a","x":1.393,"y":1.614},{"t":"a","x":1.342,"y":1.605},{"t":"a","x":1.146,"y":1.44},{"t":"a","x":1.016,"y":1.116},{"t":"a","x":0.926,"y":1.186},{"t":"a","x":0.834,"y":1.222},{"t":"a","x":0.775,"y":1.119},{"t":"a","x":0.753,"y":1.119},{"t":"a","x":0.697,"y":1.138},{"t":"a","x":0.24,"y":0.984},{"t":"a","x":0.4,"y":0.984},{"t":"a","x":0.364,"y":0.948},{"t":"a","x":0.416,"y":0.886},{"t":"a","x":0.348,"y":0.872},{"t":"a","x":0.146,"y":0.789},{"t":"a","x":0.263,"y":0.794},{"t":"a","x":0.281,"y":0.727},{"t":"a","x":0.375,"y":0.719},{"t":"a","x":0.427,"y":0.789},{"t":"a","x":0.393,"y":0.775},{"t":"a","x":0.31,"y":0.86}
],
"ngc":[
{"t":"b","x":0.169,"y":2.425},{"t":"b","x":0.202,"y":2.285},{"t":"b","x":0.216,"y":2.151},{"t":"b","x":0.292,"y":2.087},{"t":"b","x":-0.076,"y":1.584},{"t":"b","x":0.137,"y":1.559},{"t":"b","x":0.083,"y":1.355},{"t":"b","x":0.157,"y":1.277},{"t":"b","x":0.097,"y":1.165},{"t":"b","x":0.456,"y":1.291},{"t":"b","x":0.787,"y":1.179},{"t":"b","x":1.272,"y":1.179},{"t":"b","x":1.809,"y":1.257},{"t":"b","x":2.072,"y":1.972},{"t":"b","x":2.072,"y":0.846},{"t":"b","x":1.067,"y":0.866},{"t":"b","x":0.822,"y":0.832},{"t":"b","x":1.276,"y":0.763},{"t":"b","x":1.238,"y":0.651},{"t":"b","x":1.555,"y":0.696},{"t":"b","x":1.912,"y":0.606},{"t":"b","x":1.906,"y":0.52},{"t":"b","x":2.452,"y":0.654},{"t":"b","x":0.6,"y":0.718},{"t":"b","x":0.573,"y":0.117},{"t":"b","x":1.135,"y":-0.134},{"t":"b","x":1.429,"y":-0.12},{"t":"b","x":1.0,"y":-0.196},{"t":"b","x":0.016,"y":-0.022},{"t":"b","x":0.022,"y":0.162},{"t":"b","x":-0.076,"y":-0.148},{"t":"b","x":-0.027,"y":0.821},{"t":"b","x":0.009,"y":0.866},{"t":"b","x":0.047,"y":0.718},{"t":"b","x":0.031,"y":0.528},{"t":"b","x":0.031,"y":0.349},{"t":"b","x":0.0,"y":0.335},{"t":"b","x":0.097,"y":0.313},{"t":"b","x":0.171,"y":0.349},{"t":"b","x":0.225,"y":0.441},{"t":"b","x":0.22,"y":0.425},{"t":"b","x":0.387,"y":0.634},{"t":"b","x":0.395,"y":0.626},{"t":"b","x":0.326,"y":0.726},{"t":"b","x":0.191,"y":0.587},{"t":"b","x":0.06,"y":0.86},{"t":"b","x":0.11,"y":0.62},{"t":"b","x":0.14,"y":0.55},{"t":"b","x":0.17,"y":0.65},{"t":"b","x":0.21,"y":0.72},{"t":"b","x":0.25,"y":0.7},{"t":"b","x":0.28,"y":0.74},{"t":"b","x":0.31,"y":0.68},{"t":"b","x":0.35,"y":0.72},{"t":"b","x":0.38,"y":0.76},{"t":"b","x":0.42,"y":0.8},{"t":"b","x":0.45,"y":0.78},{"t":"b","x":0.48,"y":0.83},{"t":"b","x":0.5,"y":0.88},{"t":"b","x":0.44,"y":0.92},{"t":"b","x":0.4,"y":0.96},{"t":"b","x":0.3,"y":1.05},{"t":"b","x":0.26,"y":1.0},{"t":"b","x":0.22,"y":0.94},{"t":"b","x":0.12,"y":0.78},{"t":"b","x":0.08,"y":0.82},{"t":"b","x":0.33,"y":0.64},{"t":"b","x":0.24,"y":0.66},{"t":"b","x":0.18,"y":0.7},{"t":"b","x":0.09,"y":0.5},{"t":"b","x":0.06,"y":0.4},{"t":"b","x":0.04,"y":0.44},{"t":"b","x":0.15,"y":0.47},{"t":"b","x":0.12,"y":0.36},
{"t":"g","x":0.187,"y":2.249},{"t":"g","x":0.652,"y":1.922},{"t":"g","x":0.303,"y":1.885},{"t":"g","x":0.292,"y":1.628},{"t":"g","x":0.24,"y":1.486},{"t":"g","x":-0.056,"y":1.304},{"t":"g","x":0.016,"y":1.151},{"t":"g","x":0.045,"y":1.039},{"t":"g","x":0.416,"y":1.291},{"t":"g","x":0.276,"y":1.182},{"t":"g","x":0.364,"y":1.193},{"t":"g","x":1.013,"y":0.858},{"t":"g","x":0.715,"y":0.595},{"t":"g","x":0.703,"y":0.288},{"t":"g","x":0.456,"y":0.665},{"t":"g","x":0.308,"y":0.623},{"t":"g","x":0.191,"y":1.056},{"t":"g","x":0.112,"y":1.034},{"t":"g","x":0.015,"y":1.13},
{"t":"g","x":0.12,"y":0.8},{"t":"g","x":0.13,"y":0.86},{"t":"g","x":0.14,"y":0.76},{"t":"g","x":0.15,"y":0.83},{"t":"g","x":0.16,"y":0.89},{"t":"g","x":0.17,"y":0.79},{"t":"g","x":0.18,"y":0.86},{"t":"g","x":0.19,"y":0.74},{"t":"g","x":0.19,"y":0.92},{"t":"g","x":0.2,"y":0.82},{"t":"g","x":0.21,"y":0.88},{"t":"g","x":0.22,"y":0.77},{"t":"g","x":0.23,"y":0.84},{"t":"g","x":0.23,"y":0.95},{"t":"g","x":0.24,"y":0.8},{"t":"g","x":0.25,"y":0.9},{"t":"g","x":0.26,"y":0.86},{"t":"g","x":0.27,"y":0.78},{"t":"g","x":0.27,"y":0.96},{"t":"g","x":0.28,"y":0.83},{"t":"g","x":0.29,"y":0.92},{"t":"g","x":0.3,"y":0.87},{"t":"g","x":0.31,"y":0.79},{"t":"g","x":0.31,"y":0.98},{"t":"g","x":0.32,"y":0.85},{"t":"g","x":0.33,"y":0.93},{"t":"g","x":0.34,"y":0.81},{"t":"g","x":0.35,"y":0.89},{"t":"g","x":0.36,"y":0.96},{"t":"g","x":0.37,"y":0.85},{"t":"g","x":0.38,"y":0.92},{"t":"g","x":0.39,"y":1.0},{"t":"g","x":0.4,"y":0.88},{"t":"g","x":0.41,"y":0.95},{"t":"g","x":0.42,"y":0.84},{"t":"g","x":0.43,"y":0.99},{"t":"g","x":0.44,"y":0.9},{"t":"g","x":0.45,"y":0.96},{"t":"g","x":0.46,"y":1.03},{"t":"g","x":0.47,"y":0.94},{"t":"g","x":0.48,"y":1.0},{"t":"g","x":0.5,"y":0.97},{"t":"g","x":0.52,"y":1.04},{"t":"g","x":0.54,"y":1.01},{"t":"g","x":0.11,"y":0.84},{"t":"g","x":0.1,"y":0.78},{"t":"g","x":0.14,"y":0.72},{"t":"g","x":0.18,"y":0.7},{"t":"g","x":0.22,"y":0.72},{"t":"g","x":0.26,"y":0.74},{"t":"g","x":0.3,"y":0.76},{"t":"g","x":0.34,"y":0.76},{"t":"g","x":0.38,"y":0.8},{"t":"g","x":0.42,"y":0.79},{"t":"g","x":0.2,"y":0.97},{"t":"g","x":0.17,"y":0.95},{"t":"g","x":0.25,"y":1.0},{"t":"g","x":0.3,"y":1.02},{"t":"g","x":0.35,"y":1.01},{"t":"g","x":0.4,"y":1.04},{"t":"g","x":0.08,"y":0.96},{"t":"g","x":0.06,"y":0.9},{"t":"g","x":0.09,"y":0.74},{"t":"g","x":0.21,"y":0.84},{"t":"g","x":0.24,"y":0.87},{"t":"g","x":0.28,"y":0.89},{"t":"g","x":0.32,"y":0.9},{"t":"g","x":0.36,"y":0.88},{"t":"g","x":0.16,"y":0.8},{"t":"g","x":0.19,"y":0.82},{"t":"g","x":0.23,"y":0.81},{"t":"g","x":0.27,"y":0.82},{"t":"g","x":0.13,"y":0.92},{"t":"g","x":0.55,"y":0.95},{"t":"g","x":0.57,"y":0.99},{"t":"g","x":0.41,"y":0.76},{"t":"g","x":0.16,"y":0.68},{"t":"g","x":0.13,"y":0.7},
{"t":"g","x":0.14,"y":0.82},{"t":"g","x":0.16,"y":0.86},{"t":"g","x":0.18,"y":0.8},{"t":"g","x":0.2,"y":0.88},{"t":"g","x":0.22,"y":0.84},{"t":"g","x":0.24,"y":0.9},{"t":"g","x":0.26,"y":0.82},{"t":"g","x":0.28,"y":0.86},{"t":"g","x":0.3,"y":0.92},{"t":"g","x":0.32,"y":0.82},{"t":"g","x":0.34,"y":0.88},{"t":"g","x":0.36,"y":0.84},{"t":"g","x":0.38,"y":0.86},{"t":"g","x":0.4,"y":0.92},{"t":"g","x":0.42,"y":0.88},{"t":"g","x":0.44,"y":0.94},{"t":"g","x":0.46,"y":0.98},{"t":"g","x":0.48,"y":0.92},{"t":"g","x":0.17,"y":0.76},{"t":"g","x":0.21,"y":0.8},{"t":"g","x":0.25,"y":0.78},{"t":"g","x":0.29,"y":0.8},{"t":"g","x":0.33,"y":0.78},{"t":"g","x":0.37,"y":0.82},
{"t":"m","x":0.382,"y":2.422},{"t":"m","x":0.018,"y":1.196},{"t":"m","x":0.236,"y":1.229},{"t":"m","x":0.393,"y":1.095},{"t":"m","x":0.618,"y":1.0},{"t":"m","x":0.962,"y":0.615},{"t":"m","x":1.618,"y":0.684},{"t":"m","x":0.393,"y":0.503},{"t":"m","x":0.449,"y":0.508},{"t":"m","x":0.247,"y":0.307},{"t":"m","x":0.292,"y":0.251},{"t":"m","x":-0.029,"y":0.042},{"t":"m","x":-0.034,"y":-0.112},{"t":"m","x":-0.027,"y":0.316},{"t":"m","x":0.04,"y":0.265},{"t":"m","x":0.0,"y":0.4},{"t":"m","x":0.02,"y":0.45},{"t":"m","x":0.03,"y":0.38},{"t":"m","x":0.04,"y":0.48},{"t":"m","x":0.05,"y":0.42},{"t":"m","x":0.06,"y":0.52},{"t":"m","x":0.07,"y":0.46},{"t":"m","x":0.08,"y":0.55},{"t":"m","x":0.09,"y":0.5},{"t":"m","x":0.1,"y":0.58},{"t":"m","x":0.1,"y":0.62},{"t":"m","x":0.11,"y":0.53},{"t":"m","x":0.12,"y":0.65},{"t":"m","x":0.13,"y":0.6},{"t":"m","x":0.14,"y":0.68},{"t":"m","x":0.15,"y":0.63},{"t":"m","x":0.16,"y":0.7},{"t":"m","x":0.17,"y":0.66},{"t":"m","x":0.18,"y":0.72},{"t":"m","x":0.2,"y":0.7},{"t":"m","x":0.22,"y":0.74},{"t":"m","x":0.12,"y":0.7},{"t":"m","x":0.08,"y":0.62},{"t":"m","x":0.06,"y":0.44},{"t":"m","x":0.04,"y":0.4},{"t":"m","x":0.02,"y":0.36},{"t":"m","x":0.05,"y":0.36},{"t":"m","x":0.09,"y":0.44},{"t":"m","x":0.11,"y":0.48},{"t":"m","x":0.13,"y":0.52},{"t":"m","x":0.07,"y":0.58},{"t":"m","x":0.1,"y":0.68},{"t":"m","x":0.15,"y":0.74},{"t":"m","x":0.19,"y":0.64},{"t":"m","x":0.24,"y":0.7},{"t":"m","x":0.03,"y":0.5},{"t":"m","x":0.01,"y":0.42},{"t":"m","x":0.08,"y":0.4},{"t":"m","x":0.06,"y":0.3},{"t":"m","x":0.04,"y":0.28},{"t":"m","x":0.14,"y":0.57},{"t":"m","x":0.16,"y":0.6},{"t":"m","x":0.11,"y":0.44},{"t":"m","x":0.07,"y":0.5},{"t":"m","x":0.05,"y":0.47},{"t":"m","x":0.03,"y":0.43},{"t":"m","x":0.09,"y":0.4},{"t":"m","x":0.12,"y":0.56},{"t":"m","x":0.18,"y":0.66},{"t":"m","x":0.21,"y":0.68},{"t":"m","x":0.26,"y":0.72},
{"t":"s","x":0.375,"y":1.075},{"t":"s","x":0.193,"y":0.899},{"t":"s","x":0.229,"y":0.936},{"t":"s","x":0.128,"y":0.804},{"t":"s","x":0.198,"y":0.763},{"t":"s","x":0.326,"y":0.76},{"t":"s","x":0.281,"y":0.894},{"t":"s","x":0.326,"y":0.894},{"t":"s","x":0.393,"y":0.978},{"t":"s","x":0.456,"y":0.992},{"t":"s","x":0.416,"y":0.866},{"t":"s","x":0.236,"y":0.866},{"t":"s","x":0.26,"y":0.92},{"t":"s","x":0.3,"y":0.88},{"t":"s","x":0.36,"y":0.95},{"t":"s","x":0.43,"y":0.97},
{"t":"a","x":0.775,"y":1.408},{"t":"a","x":0.87,"y":1.38},{"t":"a","x":0.798,"y":1.285},{"t":"a","x":0.946,"y":1.151},{"t":"a","x":0.656,"y":1.131},{"t":"a","x":0.679,"y":1.084},{"t":"a","x":0.679,"y":0.958},{"t":"a","x":0.721,"y":0.93},{"t":"a","x":0.544,"y":1.061},{"t":"a","x":0.562,"y":1.045},{"t":"a","x":0.578,"y":0.922},{"t":"a","x":0.528,"y":0.894},{"t":"a","x":0.596,"y":0.866},{"t":"a","x":0.512,"y":0.824},{"t":"a","x":0.506,"y":0.796},{"t":"a","x":0.461,"y":0.81},{"t":"a","x":0.434,"y":0.768},{"t":"a","x":0.427,"y":1.006},{"t":"a","x":0.483,"y":1.006},{"t":"a","x":0.389,"y":0.866},{"t":"a","x":0.393,"y":0.782},{"t":"a","x":0.348,"y":0.866},{"t":"a","x":0.303,"y":0.866},{"t":"a","x":0.258,"y":0.754},{"t":"a","x":0.33,"y":0.74},{"t":"a","x":0.416,"y":0.922},{"t":"a","x":0.573,"y":0.866},{"t":"a","x":0.551,"y":0.838},{"t":"a","x":0.54,"y":0.9},{"t":"a","x":0.5,"y":0.86},{"t":"a","x":0.46,"y":0.88},{"t":"a","x":0.36,"y":0.82},{"t":"a","x":0.28,"y":0.84}
]
},
"vconcat":[
{"width":522,"height":322,"data":{"name":"smc"},
"layer":[
{"transform":[{"filter":"datum.t==='b'"}],"mark":{"type":"point","shape":"square","filled":true,"size":15,"color":"#1a35ff","opacity":1,"strokeWidth":0,"clip":true},
"encoding":{"x":{"field":"x","type":"quantitative","scale":{"domain":[-0.5,2.5],"nice":false,"zero":false},"axis":{"orient":"bottom","values":[0,1,2],"format":"d","labelPadding":8,"title":null}},
"y":{"field":"y","type":"quantitative","scale":{"domain":[-0.2,2.5],"nice":false,"zero":false},"axis":{"orient":"left","values":[0,0.5,1,1.5,2,2.5],"labelPadding":13,"format":"~g","labelExpr":"datum.value==0.5?'.5':datum.label","title":"(J−H)₀","titlePadding":13}}}},
{"transform":[{"filter":"datum.t==='g'"}],"mark":{"type":"point","shape":"square","filled":true,"size":15,"color":"#14f03c","opacity":1,"strokeWidth":0,"clip":true},
"encoding":{"x":{"field":"x","type":"quantitative","axis":{"title":null}},"y":{"field":"y","type":"quantitative","axis":{"title":"(J−H)₀"}}}},
{"transform":[{"filter":"datum.t==='m'"}],"mark":{"type":"point","shape":"square","filled":true,"size":15,"color":"#f040f0","opacity":1,"strokeWidth":0,"clip":true},
"encoding":{"x":{"field":"x","type":"quantitative","axis":{"title":null}},"y":{"field":"y","type":"quantitative","axis":{"title":"(J−H)₀"}}}},
{"transform":[{"filter":"datum.t==='s'"}],"mark":{"type":"point","shape":"square","filled":false,"size":64,"color":"black","opacity":1,"strokeWidth":1.1,"clip":true},
"encoding":{"x":{"field":"x","type":"quantitative","axis":{"title":null}},"y":{"field":"y","type":"quantitative","axis":{"title":"(J−H)₀"}}}},
{"transform":[{"filter":"datum.t==='a'"}],"mark":{"type":"point","shape":"M-1,0L1,0M0,-1L0,1M-0.7,-0.7L0.7,0.7M-0.7,0.7L0.7,-0.7","filled":false,"size":100,"color":"black","opacity":1,"strokeWidth":1.4,"clip":true},
"encoding":{"x":{"field":"x","type":"quantitative","axis":{"title":null}},"y":{"field":"y","type":"quantitative","axis":{"title":"(J−H)₀"}}}},
{"data":{"name":"yt"},"mark":{"type":"tick","orient":"horizontal","thickness":1.3,"color":"black","opacity":1,"clip":true},
"encoding":{"x":{"datum":-0.5,"type":"quantitative","axis":{"title":null}},"y":{"field":"v","type":"quantitative","axis":{"title":"(J−H)₀"}},"size":{"condition":{"test":"datum.k===1","value":52},"value":26}}},
{"data":{"name":"yt"},"mark":{"type":"tick","orient":"horizontal","thickness":1.3,"color":"black","opacity":1,"clip":true},
"encoding":{"x":{"datum":2.5,"type":"quantitative","axis":{"title":null}},"y":{"field":"v","type":"quantitative","axis":{"title":"(J−H)₀"}},"size":{"condition":{"test":"datum.k===1","value":52},"value":26}}},
{"data":{"name":"xt"},"mark":{"type":"tick","orient":"vertical","thickness":1.3,"color":"black","opacity":1,"clip":true},
"encoding":{"y":{"datum":-0.2,"type":"quantitative","axis":{"title":"(J−H)₀"}},"x":{"field":"v","type":"quantitative","axis":{"title":null}},"size":{"condition":{"test":"datum.k===1","value":52},"value":26}}},
{"data":{"name":"xt"},"mark":{"type":"tick","orient":"vertical","thickness":1.3,"color":"black","opacity":1,"clip":true},
"encoding":{"y":{"datum":2.5,"type":"quantitative","axis":{"title":"(J−H)₀"}},"x":{"field":"v","type":"quantitative","axis":{"title":null}},"size":{"condition":{"test":"datum.k===1","value":52},"value":26}}},
{"data":{"values":[{"label":"SMC"}]},"mark":{"type":"text","align":"left","baseline":"middle","font":"Liberation Serif","fontSize":25,"color":"black"},
"encoding":{"x":{"datum":-0.29,"type":"quantitative","axis":{"title":null}},"y":{"datum":2.0,"type":"quantitative","axis":{"title":"(J−H)₀"}},"text":{"field":"label"}}}
]},
{"width":522,"height":322,"data":{"name":"lmc"},
"layer":[
{"transform":[{"filter":"datum.t==='b'"}],"mark":{"type":"point","shape":"square","filled":true,"size":15,"color":"#1a35ff","opacity":1,"strokeWidth":0,"clip":true},
"encoding":{"x":{"field":"x","type":"quantitative","scale":{"domain":[-0.5,2.5],"nice":false,"zero":false},"axis":{"orient":"bottom","values":[0,1,2],"format":"d","labelPadding":8,"title":null}},
"y":{"field":"y","type":"quantitative","scale":{"domain":[-0.2,2.5],"nice":false,"zero":false},"axis":{"orient":"left","values":[0,0.5,1,1.5,2,2.5],"labelPadding":13,"format":"~g","labelExpr":"datum.value==0.5?'.5':datum.label","title":"(J−H)₀","titlePadding":13}}}},
{"transform":[{"filter":"datum.t==='g'"}],"mark":{"type":"point","shape":"square","filled":true,"size":15,"color":"#14f03c","opacity":1,"strokeWidth":0,"clip":true},
"encoding":{"x":{"field":"x","type":"quantitative","axis":{"title":null}},"y":{"field":"y","type":"quantitative","axis":{"title":"(J−H)₀"}}}},
{"transform":[{"filter":"datum.t==='m'"}],"mark":{"type":"point","shape":"square","filled":true,"size":15,"color":"#f040f0","opacity":1,"strokeWidth":0,"clip":true},
"encoding":{"x":{"field":"x","type":"quantitative","axis":{"title":null}},"y":{"field":"y","type":"quantitative","axis":{"title":"(J−H)₀"}}}},
{"transform":[{"filter":"datum.t==='s'"}],"mark":{"type":"point","shape":"square","filled":false,"size":64,"color":"black","opacity":1,"strokeWidth":1.1,"clip":true},
"encoding":{"x":{"field":"x","type":"quantitative","axis":{"title":null}},"y":{"field":"y","type":"quantitative","axis":{"title":"(J−H)₀"}}}},
{"transform":[{"filter":"datum.t==='a'"}],"mark":{"type":"point","shape":"M-1,0L1,0M0,-1L0,1M-0.7,-0.7L0.7,0.7M-0.7,0.7L0.7,-0.7","filled":false,"size":100,"color":"black","opacity":1,"strokeWidth":1.4,"clip":true},
"encoding":{"x":{"field":"x","type":"quantitative","axis":{"title":null}},"y":{"field":"y","type":"quantitative","axis":{"title":"(J−H)₀"}}}},
{"data":{"name":"yt"},"mark":{"type":"tick","orient":"horizontal","thickness":1.3,"color":"black","opacity":1,"clip":true},
"encoding":{"x":{"datum":-0.5,"type":"quantitative","axis":{"title":null}},"y":{"field":"v","type":"quantitative","axis":{"title":"(J−H)₀"}},"size":{"condition":{"test":"datum.k===1","value":52},"value":26}}},
{"data":{"name":"yt"},"mark":{"type":"tick","orient":"horizontal","thickness":1.3,"color":"black","opacity":1,"clip":true},
"encoding":{"x":{"datum":2.5,"type":"quantitative","axis":{"title":null}},"y":{"field":"v","type":"quantitative","axis":{"title":"(J−H)₀"}},"size":{"condition":{"test":"datum.k===1","value":52},"value":26}}},
{"data":{"name":"xt"},"mark":{"type":"tick","orient":"vertical","thickness":1.3,"color":"black","opacity":1,"clip":true},
"encoding":{"y":{"datum":-0.2,"type":"quantitative","axis":{"title":"(J−H)₀"}},"x":{"field":"v","type":"quantitative","axis":{"title":null}},"size":{"condition":{"test":"datum.k===1","value":52},"value":26}}},
{"data":{"name":"xt"},"mark":{"type":"tick","orient":"vertical","thickness":1.3,"color":"black","opacity":1,"clip":true},
"encoding":{"y":{"datum":2.5,"type":"quantitative","axis":{"title":"(J−H)₀"}},"x":{"field":"v","type":"quantitative","axis":{"title":null}},"size":{"condition":{"test":"datum.k===1","value":52},"value":26}}},
{"data":{"values":[{"label":"LMC"}]},"mark":{"type":"text","align":"left","baseline":"middle","font":"Liberation Serif","fontSize":25,"color":"black"},
"encoding":{"x":{"datum":-0.29,"type":"quantitative","axis":{"title":null}},"y":{"datum":2.0,"type":"quantitative","axis":{"title":"(J−H)₀"}},"text":{"field":"label"}}}
]},
{"width":522,"height":322,"data":{"name":"ngc"},
"layer":[
{"transform":[{"filter":"datum.t==='b'"}],"mark":{"type":"point","shape":"square","filled":true,"size":15,"color":"#1a35ff","opacity":1,"strokeWidth":0,"clip":true},
"encoding":{"x":{"field":"x","type":"quantitative","scale":{"domain":[-0.5,2.5],"nice":false,"zero":false},"axis":{"orient":"bottom","values":[0,1,2],"format":"d","labelPadding":8,"title":"(H−Kₛ)₀","titlePadding":3,"titleFontSize":23}},
"y":{"field":"y","type":"quantitative","scale":{"domain":[-0.2,2.5],"nice":false,"zero":false},"axis":{"orient":"left","values":[0,0.5,1,1.5,2,2.5],"labelPadding":13,"format":"~g","labelExpr":"datum.value==0.5?'.5':datum.label","title":"(J−H)₀","titlePadding":13}}}},
{"transform":[{"filter":"datum.t==='g'"}],"mark":{"type":"point","shape":"square","filled":true,"size":15,"color":"#14f03c","opacity":1,"strokeWidth":0,"clip":true},
"encoding":{"x":{"field":"x","type":"quantitative","axis":{"title":"(H−Kₛ)₀"}},"y":{"field":"y","type":"quantitative","axis":{"title":"(J−H)₀"}}}},
{"transform":[{"filter":"datum.t==='m'"}],"mark":{"type":"point","shape":"square","filled":true,"size":15,"color":"#f040f0","opacity":1,"strokeWidth":0,"clip":true},
"encoding":{"x":{"field":"x","type":"quantitative","axis":{"title":"(H−Kₛ)₀"}},"y":{"field":"y","type":"quantitative","axis":{"title":"(J−H)₀"}}}},
{"transform":[{"filter":"datum.t==='s'"}],"mark":{"type":"point","shape":"square","filled":false,"size":64,"color":"black","opacity":1,"strokeWidth":1.1,"clip":true},
"encoding":{"x":{"field":"x","type":"quantitative","axis":{"title":"(H−Kₛ)₀"}},"y":{"field":"y","type":"quantitative","axis":{"title":"(J−H)₀"}}}},
{"transform":[{"filter":"datum.t==='a'"}],"mark":{"type":"point","shape":"M-1,0L1,0M0,-1L0,1M-0.7,-0.7L0.7,0.7M-0.7,0.7L0.7,-0.7","filled":false,"size":100,"color":"black","opacity":1,"strokeWidth":1.4,"clip":true},
"encoding":{"x":{"field":"x","type":"quantitative","axis":{"title":"(H−Kₛ)₀"}},"y":{"field":"y","type":"quantitative","axis":{"title":"(J−H)₀"}}}},
{"data":{"name":"yt"},"mark":{"type":"tick","orient":"horizontal","thickness":1.3,"color":"black","opacity":1,"clip":true},
"encoding":{"x":{"datum":-0.5,"type":"quantitative","axis":{"title":"(H−Kₛ)₀"}},"y":{"field":"v","type":"quantitative","axis":{"title":"(J−H)₀"}},"size":{"condition":{"test":"datum.k===1","value":52},"value":26}}},
{"data":{"name":"yt"},"mark":{"type":"tick","orient":"horizontal","thickness":1.3,"color":"black","opacity":1,"clip":true},
"encoding":{"x":{"datum":2.5,"type":"quantitative","axis":{"title":"(H−Kₛ)₀"}},"y":{"field":"v","type":"quantitative","axis":{"title":"(J−H)₀"}},"size":{"condition":{"test":"datum.k===1","value":52},"value":26}}},
{"data":{"name":"xt"},"mark":{"type":"tick","orient":"vertical","thickness":1.3,"color":"black","opacity":1,"clip":true},
"encoding":{"y":{"datum":-0.2,"type":"quantitative","axis":{"title":"(J−H)₀"}},"x":{"field":"v","type":"quantitative","axis":{"title":"(H−Kₛ)₀"}},"size":{"condition":{"test":"datum.k===1","value":52},"value":26}}},
{"data":{"name":"xt"},"mark":{"type":"tick","orient":"vertical","thickness":1.3,"color":"black","opacity":1,"clip":true},
"encoding":{"y":{"datum":2.5,"type":"quantitative","axis":{"title":"(J−H)₀"}},"x":{"field":"v","type":"quantitative","axis":{"title":"(H−Kₛ)₀"}},"size":{"condition":{"test":"datum.k===1","value":52},"value":26}}},
{"data":{"values":[{"label":"NGC6522"}]},"mark":{"type":"text","align":"left","baseline":"middle","font":"Liberation Serif","fontSize":25,"color":"black"},
"encoding":{"x":{"datum":-0.29,"type":"quantitative","axis":{"title":"(H−Kₛ)₀"}},"y":{"datum":2.0,"type":"quantitative","axis":{"title":"(J−H)₀"}},"text":{"field":"label"}}}
]}
]
}
